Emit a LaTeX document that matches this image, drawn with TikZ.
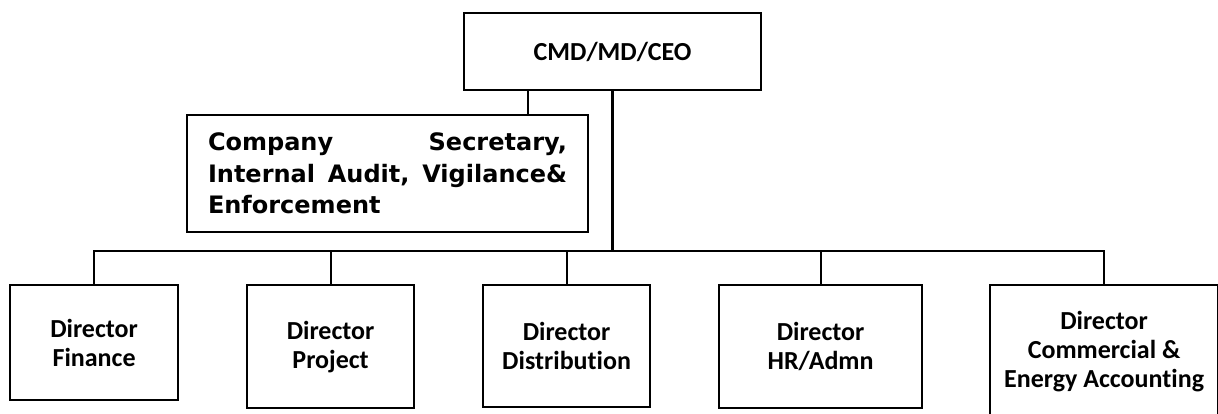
\documentclass[tikz,border=0pt]{standalone}
\usepackage{fontspec}
\setmainfont{Carlito}[Ligatures=NoCommon]
\newfontfamily\widesans{DejaVu Sans}
\begin{document}
\begin{tikzpicture}[x=1pt,y=-1pt,
  orgbox/.style={draw=black, line width=2.2pt, inner sep=0pt, anchor=north west,
    align=center, font=\bfseries\fontsize{26}{29}\selectfont},
  wing/.style={draw=black, line width=2.2pt, inner sep=0pt, anchor=center,
    font=\widesans\bfseries\fontsize{24}{31.5}\selectfont, text width=359pt, align=left},
  link/.style={line width=2.2pt},
  trunk/.style={line width=2.6pt},
  hairline/.style={line width=1.2pt}]
  \clip (0,0) rectangle (1218,414);
  \fill[white] (0,0) rectangle (1218,414);

  % top of the hierarchy
  \node[orgbox, minimum width=297pt, minimum height=77pt] (cmd) at (463,12) {CMD/MD/CEO};

  % staff functions reporting to the top (justified lines)
  \node[wing, minimum width=401pt, minimum height=117pt] (staff) at (387.5,173.5)
    {\makebox[359pt][s]{Company\hfill Secretary,}\\
     \makebox[359pt][s]{Internal\hfill Audit,\hfill Vigilance\&}\\
     Enforcement};

  % functional directors
  \node[orgbox, minimum width=168pt, minimum height=115pt] (fin)  at (9,284)   {Director\\Finance};
  \node[orgbox, minimum width=167pt, minimum height=123pt] (proj) at (246,284) {Director\\Project};
  \node[orgbox, minimum width=167pt, minimum height=122pt] (dist) at (482,284) {Director\\Distribution};
  \node[orgbox, minimum width=203pt, minimum height=123pt] (hr)   at (718,284) {Director\\HR/Admn};
  \node[orgbox, minimum width=228pt, minimum height=133pt] (com)  at (989,284) {Director\\Commercial \&\\Energy Accounting};

  % connectors
  \coordinate (tap) at (528,89);
  \coordinate (bus) at (0,251);
  \draw[hairline] (tap |- cmd.south) -- (tap |- staff.north);
  \draw[trunk] (cmd.south) -- (cmd.south |- bus);
  \draw[link] (fin.north) |- (com.north |- bus) -- (com.north);
  \draw[link] (proj.north |- bus) -- (proj.north);
  \draw[link] (dist.north |- bus) -- (dist.north);
  \draw[link] (hr.north |- bus) -- (hr.north);
\end{tikzpicture}
\end{document}
